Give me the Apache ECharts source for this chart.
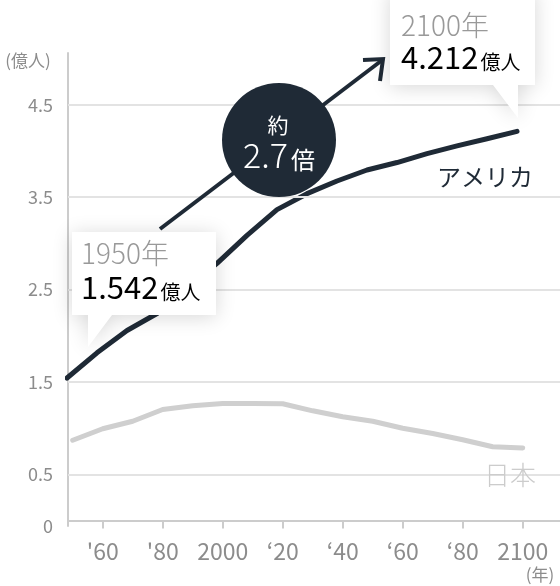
<!DOCTYPE html>
<html>
<head>
<meta charset="utf-8">
<script src="https://cdn.jsdelivr.net/npm/echarts@6/dist/echarts.min.js"></script>
<style>
html, body { margin: 0; padding: 0; background: #fff; }
#chart { width: 560px; height: 586px; }
</style>
</head>
<body>
<div id="chart"></div>
<script>
// data (億人)
const years = [1950, 1960, 1970, 1980, 1990, 2000, 2010, 2020, 2030, 2040, 2050, 2060, 2070, 2080, 2090, 2100];
const usa = [1.542, 1.815, 2.057, 2.241, 2.514, 2.783, 3.086, 3.365, 3.538, 3.675, 3.794, 3.875, 3.971, 4.055, 4.133, 4.212];
const japan = [0.868, 0.993, 1.074, 1.201, 1.242, 1.266, 1.266, 1.264, 1.187, 1.123, 1.074, 0.998, 0.941, 0.874, 0.798, 0.785];
const yTicks = [0.5, 1.5, 2.5, 3.5, 4.5];
const xTicks = [1960, 1980, 2000, 2020, 2040, 2060, 2080, 2100];
const xTickLabels = ["'60", "'80", "2000", "‘20", "‘40", "‘60", "‘80", "2100"];

const dark = "#1f2a36";
const gray = "#8c8c8c";
const font = "'Noto Sans CJK JP', 'Noto Sans', sans-serif";
const yMin = -0.06;

let callout = (points, z) => ({
    type: "polygon",
    z: z,
    shape: { points: points },
    style: { fill: "#fff", shadowBlur: 20, shadowColor: "rgba(0,0,0,0.16)", shadowOffsetY: 2 }
});

let valueText = (x, y, num) => ({
    type: "text", z: 104, x: x, y: y,
    style: {
        text: "{n|" + num + "}{u|億人}", textAlign: "left", textVerticalAlign: "middle",
        rich: {
            n: { fontSize: 31, fontFamily: font, color: "#1a1a1a", lineHeight: 31, verticalAlign: "bottom" },
            u: { fontSize: 20, fontFamily: font, color: "#1a1a1a", lineHeight: 20, verticalAlign: "bottom", padding: [0, 0, 0, 2] }
        }
    }
});

let option = {
    animation: false,
    textStyle: { fontFamily: font },
    grid: { left: 68, right: 0, top: 53, bottom: 60 },
    xAxis: [{
        type: "value",
        min: 1948.43,
        max: 2112.43,
        splitLine: { show: false },
        axisLine: { show: true, lineStyle: { color: "#cccccc", width: 2 } },
        axisTick: { show: true, customValues: xTicks, length: 8, lineStyle: { color: "#cccccc", width: 2 } },
        axisLabel: {
            customValues: xTicks,
            margin: 14,
            color: gray,
            fontSize: 23,
            fontFamily: font,
            formatter: v => xTickLabels[xTicks.indexOf(v)] || ""
        }
    }, {
        type: "value",
        min: 1950.33,
        max: 2114.33,
        show: false
    }],
    yAxis: {
        type: "value",
        min: yMin,
        max: 5.061,
        splitLine: { show: false },
        axisLine: { show: true, lineStyle: { color: "#cccccc", width: 2 } },
        axisTick: { show: false },
        axisLabel: {
            customValues: [yMin].concat(yTicks),
            margin: 15,
            color: gray,
            fontSize: 18,
            fontFamily: font,
            formatter: v => (v < 0 ? "0" : String(v))
        }
    },
    series: [{
        type: "line",
        data: [],
        z: 1,
        markLine: {
            silent: true,
            symbol: "none",
            label: { show: false },
            lineStyle: { color: "#e3e3e3", width: 2, type: "solid" },
            data: yTicks.map(v => ({ yAxis: v }))
        }
    }, {
        name: "日本",
        type: "line",
        z: 2,
        showSymbol: false,
        data: years.map((y, i) => [y, japan[i]]),
        lineStyle: { color: "#cfcfcf", width: 5, cap: "round", join: "round" }
    }, {
        name: "アメリカ",
        type: "line",
        xAxisIndex: 1,
        z: 3,
        clip: false,
        showSymbol: false,
        data: years.map((y, i) => [y, usa[i]]),
        lineStyle: { color: dark, width: 5, cap: "round", join: "round" }
    }],
    graphic: [
        { type: "text", z: 100, x: 28, y: 61, style: { text: "(億人)", fill: gray, font: "17px " + font, textAlign: "center", textVerticalAlign: "middle" } },
        { type: "text", z: 100, x: 540, y: 575, style: { text: "(年)", fill: gray, font: "17px " + font, textAlign: "center", textVerticalAlign: "middle" } },
        { type: "text", z: 100, x: 484, y: 475, style: { text: "日本", fill: "#cccccc", font: "300 26px " + font, textAlign: "left", textVerticalAlign: "middle" } },
        { type: "text", z: 100, x: 437, y: 177, style: { text: "アメリカ", fill: dark, font: "24px " + font, textAlign: "left", textVerticalAlign: "middle" } },
        // arrow + circle
        { type: "line", z: 100, shape: { x1: 160, y1: 229, x2: 381, y2: 61 }, style: { stroke: dark, lineWidth: 4 } },
        { type: "polyline", z: 100, shape: { points: [[363, 60], [383, 59], [380, 81]] }, style: { stroke: dark, lineWidth: 4, fill: null } },
        { type: "circle", z: 101, shape: { cx: 279, cy: 140, r: 57 }, style: { fill: dark } },
        { type: "text", z: 102, x: 278, y: 125, style: { text: "約", fill: "#fff", font: "21px " + font, textAlign: "center", textVerticalAlign: "middle" } },
        {
            type: "text", z: 102, x: 279, y: 155,
            style: {
                text: "{n|2.7}{u|倍}", fill: "#fff", textAlign: "center", textVerticalAlign: "middle",
                rich: {
                    n: { fontSize: 34, fontFamily: font, fontWeight: 300, color: "#fff", lineHeight: 34, verticalAlign: "bottom" },
                    u: { fontSize: 24, fontFamily: font, color: "#fff", lineHeight: 24, verticalAlign: "bottom", padding: [0, 0, 0, 3] }
                }
            }
        },
        // callouts
        callout([[72, 232], [216, 232], [216, 315], [112, 315], [88, 347], [88, 315], [72, 315]], 103),
        { type: "text", z: 104, x: 81, y: 253, style: { text: "1950年", fill: "#999999", font: "300 28px " + font, textAlign: "left", textVerticalAlign: "middle" } },
        valueText(81, 287, "1.542"),
        callout([[390, -10], [535, -10], [535, 85], [518, 85], [518, 118], [493, 85], [390, 85]], 103),
        { type: "text", z: 104, x: 401, y: 25, style: { text: "2100年", fill: "#999999", font: "300 28px " + font, textAlign: "left", textVerticalAlign: "middle" } },
        valueText(401, 57, "4.212")
    ]
};

const chart = echarts.init(document.querySelector("#chart"), null, { renderer: "canvas" });
chart.setOption(option);
window.onresize = () => { chart.resize(); };
</script>
</body>
</html>
